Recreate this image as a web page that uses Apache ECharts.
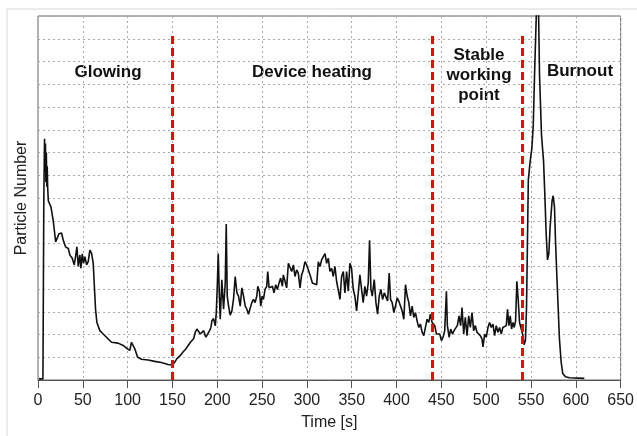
<!DOCTYPE html>
<html>
<head>
<meta charset="utf-8">
<script src="https://cdn.jsdelivr.net/npm/echarts@6/dist/echarts.min.js"></script>
<style>
  html, body { margin: 0; padding: 0; background: #fff; }
  #main { width: 637px; height: 436px; }
</style>
</head>
<body>
<div id="main"></div>
<script>
// time axis [s] and particle number (in grid units, no scale shown in source)
const timeS = [
  1, 5.5, 6.5, 7.3, 7.8, 8.3, 8.8, 9.3, 9.8, 10.3, 10.8, 11.5, 14.5, 17, 19.7, 21.9, 23.4, 26.3, 28.2, 30.8,
  33.8, 35.6, 38.2, 40.4, 41.9, 43.4, 44.9, 46.7, 47.9, 49.3, 50.8, 52.3, 54.2, 56, 57.9, 59.8, 61.6, 62.7, 64.2, 65.7,
  69, 72.7, 76.4, 82, 89.4, 95, 99.8, 102.4, 104.3, 105.8, 108, 111, 115.4, 122.8, 130.2, 137.7, 145, 149, 152, 155,
  158.8, 161.8, 164.4, 166.2, 168, 170, 171.8, 173.6, 175.5, 177.3, 179.2, 181.1, 182.9, 184.8, 187.3, 189.2, 191.4, 192.9, 194, 195.9,
  197.8, 198.9, 200, 201.1, 202.2, 203.3, 205.1, 207, 208.9, 210, 211.1, 212.6, 214.4, 216.3, 218.1, 220, 221.9, 223.7, 225.6, 227.4,
  229.3, 231.2, 233, 234.8, 236.7, 238.5, 240.4, 242.2, 244.1, 245.2, 247, 248.5, 250, 251.5, 253.3, 255.2, 256.3, 257.8, 259.6, 261.5,
  263.3, 265.2, 267, 268.9, 270.7, 272.6, 273.7, 275.6, 277.4, 279.3, 281.2, 283, 284.9, 286.7, 288.6, 290.4, 292.3, 294.1, 296, 297.8,
  299.7, 301, 303.5, 306.1, 308.3, 310.9, 312.7, 314.6, 316.4, 318.3, 320.2, 322, 323.9, 325.7, 327.6, 329.4, 331.3, 333.1, 335, 336.9,
  338.7, 340.6, 342.4, 344.3, 346.1, 348, 349.8, 351.7, 353.5, 355.4, 357.3, 359.1, 361, 362.8, 364.7, 366.5, 368.4, 369.9, 371.4, 372.9,
  375.1, 377, 378.8, 380.7, 382.5, 384.4, 386.3, 388.1, 390, 391.8, 393.3, 395.1, 397, 398.8, 400.7, 402.5, 404.4, 406.2, 408.1, 410,
  411.8, 413.7, 415.5, 417.4, 419.2, 421.1, 422.9, 424.8, 426.6, 428.5, 430.4, 432.2, 434.1, 435.9, 437.8, 439.6, 441.5, 442.6, 444.5, 446.3,
  448.2, 450, 451.9, 453.7, 455.6, 456.7, 458.6, 460.4, 462.3, 464.1, 466, 467.8, 469.7, 471.5, 473, 474.9, 476.7, 478.6, 480.5, 482.3,
  484.2, 486, 487.9, 489.7, 491.6, 493.4, 495.3, 496.4, 498.3, 500.1, 502, 503.8, 505.7, 507.5, 509.4, 511.2, 513.1, 514.9, 516.8, 518.6,
  520.5, 522.4, 523.8, 525.3, 526.8, 528.3, 529.8, 531.3, 532.8, 534.2, 535.7, 537.2, 539.1, 541, 542.3, 543.8, 545, 546, 547, 549,
  551, 552.5, 554, 555.5, 557, 558.5, 559.5, 561.7, 564, 565.4, 566.9, 568.4, 569.9, 571.3, 573.5, 574.7, 576.2, 577.3, 578.7, 580.2,
  581.7, 583.6, 585.4, 588.4, 592.9, 609.5
];
const particles = [
  0.05, 0.05, 8.0, 10.6, 9.2, 10.4, 8.7, 10.0, 8.5, 9.4, 8.45, 7.88, 7.6, 7.0, 6.07, 6.03, 6.43, 6.46, 6.14, 5.85,
  5.78, 5.49, 5.35, 5.06, 5.42, 5.85, 4.99, 5.49, 4.91, 5.54, 5.13, 5.42, 5.06, 5.2, 5.71, 5.57, 5.13, 4.26, 3.11, 2.53,
  2.17, 2.02, 1.88, 1.66, 1.62, 1.52, 1.37, 1.30, 1.66, 1.69, 1.37, 1.01, 0.91, 0.88, 0.82, 0.77, 0.68, 0.66, 0.75, 0.94,
  1.08, 1.23, 1.34, 1.44, 1.37, 1.66, 1.59, 1.81, 2.1, 2.24, 2.31, 2.02, 1.95, 2.17, 1.88, 1.95, 2.17, 2.31, 2.6, 2.7,
  2.38, 2.96, 4.12, 5.56, 3.83, 2.67, 4.41, 3.11, 4.26, 6.86, 3.69, 3.25, 2.85, 3.04, 3.54, 4.55, 3.83, 3.69, 3.25, 4.05,
  3.69, 3.25, 3.11, 2.89, 2.96, 3.4, 3.54, 3.4, 3.69, 4.12, 3.9, 3.25, 3.69, 3.54, 3.98, 4.12, 4.77, 4.05, 3.98, 4.12,
  3.83, 4.19, 3.98, 4.26, 4.48, 4.12, 4.62, 4.34, 4.05, 5.13, 5.06, 4.77, 5.06, 4.55, 4.84, 4.70, 4.05, 4.62, 4.84, 5.2,
  5.06, 5.13, 4.62, 4.26, 4.34, 4.19, 5.2, 4.99, 5.28, 5.42, 5.56, 5.13, 5.35, 4.77, 4.91, 4.55, 4.99, 4.34, 4.26, 3.54,
  4.55, 4.77, 3.83, 4.77, 3.9, 5.13, 4.91, 3.98, 3.69, 3.04, 3.83, 4.62, 3.98, 3.4, 4.12, 3.69, 4.26, 6.14, 3.98, 3.69,
  4.41, 3.4, 2.89, 3.69, 3.98, 3.54, 3.83, 3.9, 3.47, 4.7, 3.54, 3.4, 2.96, 3.25, 3.61, 3.47, 3.25, 3.04, 2.67, 4.19,
  3.69, 3.4, 2.82, 3.25, 2.75, 2.96, 2.6, 2.31, 2.46, 2.1, 1.95, 2.31, 2.67, 2.53, 2.89, 2.53, 2.6, 2.39, 2.02, 1.97,
  2.02, 1.73, 1.88, 2.17, 3.9, 2.39, 1.88, 2.24, 2.02, 2.17, 2.1, 2.39, 2.82, 2.39, 3.18, 2.02, 2.75, 1.95, 2.82, 2.31,
  2.96, 2.17, 2.39, 2.1, 2.17, 1.95, 1.81, 1.45, 2.02, 1.88, 2.31, 2.53, 2.31, 2.46, 1.95, 2.39, 2.1, 2.31, 2.02, 2.31,
  2.24, 2.39, 3.11, 2.39, 2.82, 2.24, 2.53, 2.31, 2.6, 4.34, 3.54, 2.53, 2.24, 1.95, 1.55, 1.75, 3.2, 6.0, 8.8, 9.6,
  10.2, 11.2, 13.5, 15.5, 17.5, 16, 13.4, 10.77, 9.61, 8.17, 6.43, 5.28, 5.56, 6.72, 7.88, 8.1, 7.59, 6.14, 4.7, 3.25,
  1.81, 0.8, 0.29, 0.14, 0.1, 0.07
];
// phase boundaries [s]
const phaseLines = [150, 440, 540];
const phaseLabels = ['Glowing', 'Device heating', 'Stable\nworking\npoint', 'Burnout'];

const chartDom = document.getElementById('main');
const myChart = echarts.init(chartDom);
const seriesData = timeS.map((t, i) => [t, particles[i]]);
const labelFont = 'bold 17px "Liberation Sans", Arial, sans-serif';

const option = {
  animation: false,
  backgroundColor: '#fff',
  textStyle: { fontFamily: '"Liberation Sans", Arial, sans-serif' },
  grid: {
    left: 38, right: 14, top: 16, bottom: 51,
    show: true,
    borderColor: '#666',
    borderWidth: 1
  },
  xAxis: {
    type: 'value',
    min: 0, max: 650, interval: 50,
    offset: 3,
    name: 'Time [s]',
    nameLocation: 'middle',
    nameGap: 32,
    nameTextStyle: { fontSize: 16, color: '#222' },
    axisLine: { show: true, lineStyle: { color: '#555', width: 1 } },
    axisTick: { show: true, length: 8, lineStyle: { color: '#555' } },
    axisLabel: { fontSize: 16, color: '#222', margin: 10 },
    splitLine: { show: true, lineStyle: { color: '#aaa', type: [2, 3], width: 1 } }
  },
  yAxis: {
    type: 'value',
    min: 0, max: 16, interval: 1,
    name: 'Particle Number',
    nameLocation: 'middle',
    nameGap: 8,
    nameTextStyle: { fontSize: 16, color: '#222' },
    axisLine: { show: false },
    axisTick: { show: false },
    axisLabel: { show: false },
    splitLine: { show: true, lineStyle: { color: '#aaa', type: [2, 3], width: 1 } }
  },
  series: [
    {
      type: 'line',
      data: seriesData,
      showSymbol: false,
      symbol: 'none',
      clip: true,
      lineStyle: { color: '#111', width: 1.6 },
      z: 3,
      markLine: {
        silent: true,
        symbol: ['none', 'none'],
        label: { show: false },
        lineStyle: { color: '#ff0000', type: [8, 4], width: 3 },
        data: phaseLines.map(x => [{ coord: [x, 0] }, { coord: [x, 15.3] }])
      }
    }
  ],
  graphic: [
    {
      type: 'rect',
      shape: { x: 7, y: 9, width: 700, height: 500 },
      style: { fill: 'none', stroke: '#d8d8d8', lineWidth: 1 },
      silent: true
    },
    { type: 'text', x: 108, y: 72, style: { text: phaseLabels[0], font: labelFont, fill: '#111', align: 'center', verticalAlign: 'middle' } },
    { type: 'text', x: 312, y: 72, style: { text: phaseLabels[1], font: labelFont, fill: '#111', align: 'center', verticalAlign: 'middle' } },
    { type: 'text', x: 479, y: 75, style: { text: phaseLabels[2], font: labelFont, fill: '#111', align: 'center', verticalAlign: 'middle', lineHeight: 20 } },
    { type: 'text', x: 580, y: 71, style: { text: phaseLabels[3], font: labelFont, fill: '#111', align: 'center', verticalAlign: 'middle' } }
  ]
};

option && myChart.setOption(option);
window.addEventListener('resize', function () {
  myChart.resize();
});
</script>
</body>
</html>
